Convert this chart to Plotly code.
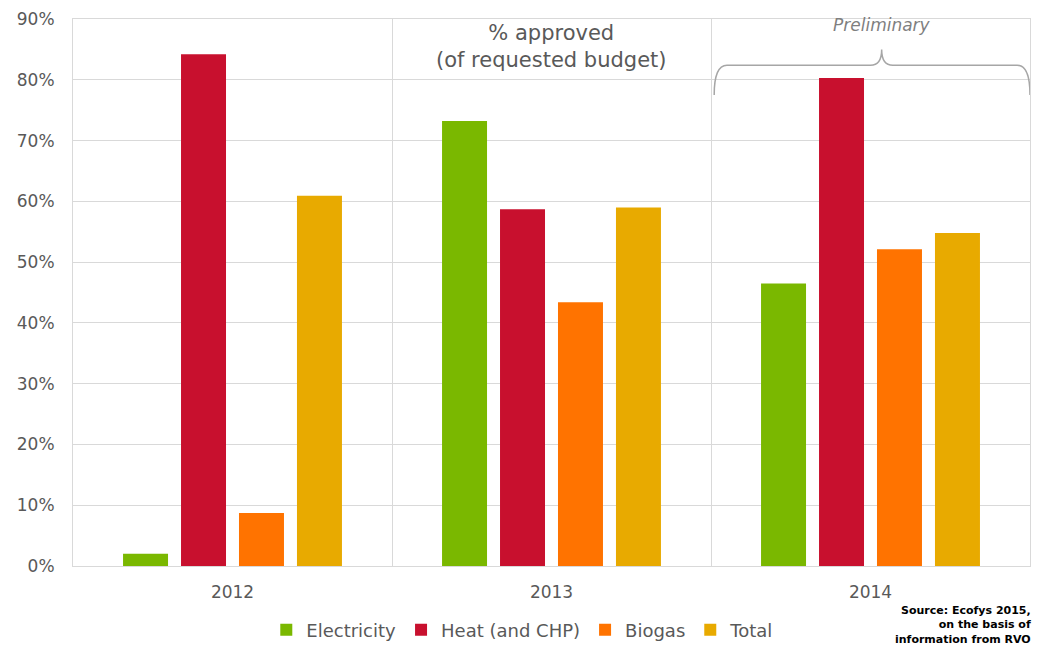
"""Approved share of requested budget by category, 2012-2014."""

import plotly.graph_objects as go

YEARS = ["2012", "2013", "2014"]
SERIES = ["Electricity", "Heat (and CHP)", "Biogas", "Total"]
ELECTRICITY = [0.020, 0.732, 0.465]
HEAT = [0.842, 0.587, 0.803]
BIOGAS = [0.087, 0.434, 0.521]
TOTAL = [0.609, 0.590, 0.548]

_COLORS = ["#7ab800", "#c8102e", "#ff7300", "#e8aa00"]
_GRID = "#d9d9d9"
_TEXT = "#595959"
_FONT = "DejaVu Sans"

x = list(range(len(YEARS)))

fig = go.Figure()
for name, vals, color in zip(SERIES, [ELECTRICITY, HEAT, BIOGAS, TOTAL], _COLORS):
    fig.add_trace(go.Bar(x=x, y=vals, name=name, marker_color=color, marker_line_width=0))

# Brace over the preliminary 2014 figures
fig.add_shape(
    type="path",
    path=(
        "M 1.51 0.775 Q 1.51 0.824 1.55 0.824 L 2.00 0.824 "
        "Q 2.035 0.824 2.035 0.85 Q 2.035 0.824 2.07 0.824 "
        "L 2.46 0.824 Q 2.5 0.824 2.5 0.775"
    ),
    xref="x",
    yref="y",
    line={"color": "#a6a6a6", "width": 1.5},
)
fig.add_annotation(
    x=2.035, y=0.89, xref="x", yref="y", text="<i>Preliminary</i>",
    showarrow=False, font={"family": _FONT, "size": 17, "color": "#7f7f7f"},
)
fig.add_annotation(
    x=1.0, y=0.855, xref="x", yref="y",
    text="% approved<br>(of requested budget)",
    showarrow=False, font={"family": _FONT, "size": 21, "color": _TEXT},
)
fig.add_annotation(
    x=1.003, y=-0.108, xref="paper", yref="paper", xanchor="right", yanchor="middle",
    align="right", showarrow=False,
    text="<b>Source: Ecofys 2015,<br>on the basis of<br>information from RVO</b>",
    font={"family": _FONT, "size": 11, "color": "#000000"},
)

# page body adds an 8px margin, so the figure is sized 8px short
fig.update_layout(
    width=1033,
    height=640,
    paper_bgcolor="white",
    plot_bgcolor="white",
    margin={"l": 65, "r": 11, "t": 11, "b": 82, "autoexpand": False},
    font={"family": _FONT, "size": 17, "color": _TEXT},
    barmode="group",
    bargap=0.273,
    bargroupgap=0.224,
    showlegend=True,
    legend={
        "orientation": "h",
        "x": 0.47,
        "xanchor": "center",
        "y": -0.117,
        "yanchor": "middle",
        "font": {"family": _FONT, "size": 18, "color": _TEXT},
        "itemwidth": 30,
    },
    xaxis={
        "range": [-0.5, 2.5],
        "tickvals": x,
        "ticktext": YEARS,
        "showgrid": False,
        "zeroline": False,
        "showline": True,
        "linecolor": _GRID,
        "mirror": True,
        "ticks": "outside",
        "ticklen": 11,
        "tickcolor": "rgba(0,0,0,0)",
        "automargin": False,
        "minor": {"tickvals": [0.5, 1.5], "showgrid": True, "gridcolor": _GRID, "gridwidth": 1},
    },
    yaxis={
        "range": [0, 0.9],
        "dtick": 0.1,
        "tickformat": ".0%",
        "showgrid": True,
        "gridcolor": _GRID,
        "zeroline": False,
        "showline": True,
        "linecolor": _GRID,
        "mirror": True,
        "ticks": "outside",
        "ticklen": 14,
        "tickcolor": "rgba(0,0,0,0)",
        "automargin": False,
    },
)

fig.write_html("out.html")
